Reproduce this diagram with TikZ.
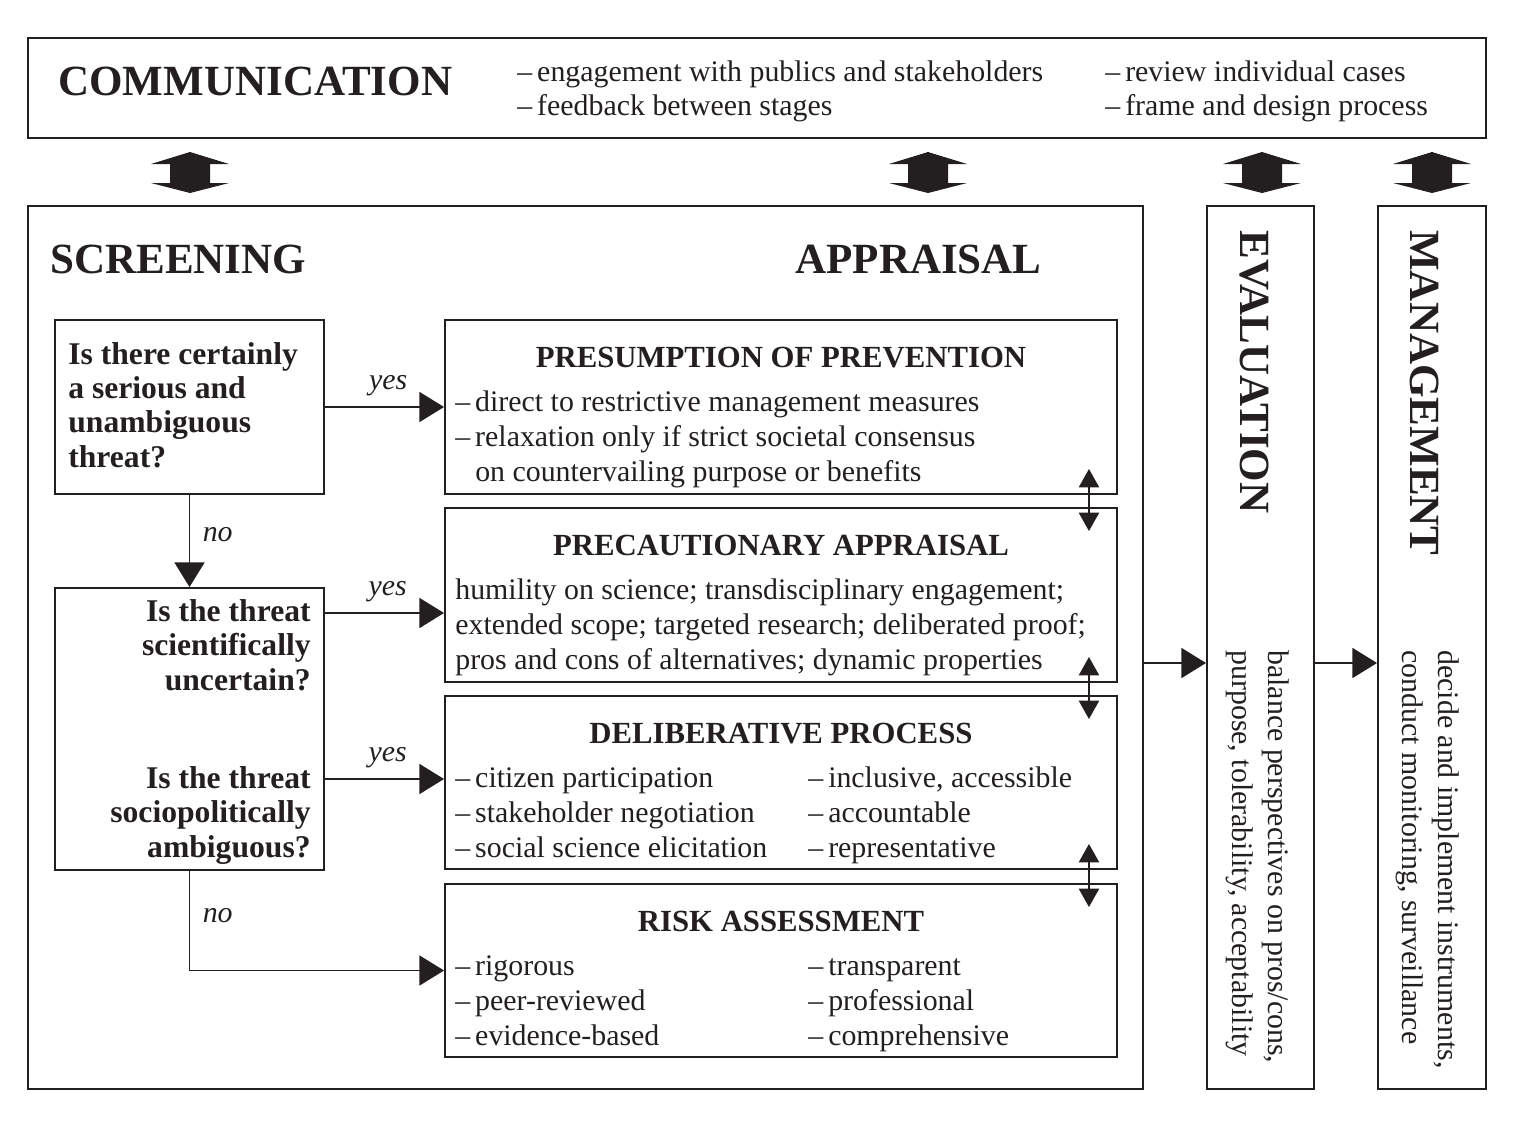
\documentclass[tikz,border=0pt]{standalone}
\usepackage{fontspec}
\setmainfont{Liberation Serif}
\usetikzlibrary{arrows.meta,fit,calc,positioning}
\definecolor{ink}{RGB}{35,31,32}
\tikzset{
  box/.style={draw, line width=1.1pt, inner sep=0pt},
  body/.style={font=\fontsize{17}{19.9}\selectfont, inner sep=0pt, align=left},
  bigtitle/.style={font=\fontsize{24.5}{28}\selectfont\bfseries, inner sep=0pt},
  boxtitle/.style={font=\fontsize{17.5}{20}\selectfont\bfseries, inner sep=0pt},
  question/.style={font=\fontsize{18}{19.4}\selectfont\bfseries, inner sep=0pt},
  answer/.style={font=\fontsize{17}{20}\selectfont\itshape, inner sep=0pt},
  flow/.style={line width=1.1pt, -{Triangle[length=14pt,width=17pt]}},
  link/.style={line width=1.1pt, {Triangle[length=10.5pt,width=11.5pt]}-{Triangle[length=10.5pt,width=11.5pt]}},
}
\begin{document}
\begin{tikzpicture}[x=0.02cm, y=-0.02cm, color=ink]
    \useasboundingbox (0,0) rectangle (1519,1127);

    % Communication
    \node[box, fit={(28,38)(1486,138)}] (comm) {};
    \node[bigtitle, anchor=base west] (commt) at (58,95) {COMMUNICATION};
    \node[body, anchor=base west, font=\fontsize{17}{18.8}\selectfont] (comma) at (517,115) {–\,engagement with publics and stakeholders\\–\,feedback between stages};
    \node[body, anchor=base west, font=\fontsize{17}{18.8}\selectfont] (commb) at (1105,115) {–\,review individual cases\\–\,frame and design process};

    % Exchange arrows
    \foreach \cx in {190,928,1262,1432}
      \fill (\cx,152) -- ++(39,12) -- ++(-19,0) -- ++(0,19) -- ++(19,0) -- (\cx,193)
        -- ++(-39,-10) -- ++(19,0) -- ++(0,-19) -- ++(-19,0) -- cycle;

    % Stages
    \node[box, fit={(28,206)(1143,1089)}] (main) {};
    \node[box, fit={(1207,206)(1314,1089)}] (eval) {};
    \node[box, fit={(1378,206)(1486,1089)}] (mgmt) {};
    \node[bigtitle, anchor=base west] (screent) at (50,273) {SCREENING};
    \node[bigtitle, anchor=base east] (apprt) at (1042,273) {APPRAISAL};
    \node[bigtitle, rotate=-90, anchor=west] (evalt) at (1254,230) {EVALUATION};
    \node[bigtitle, rotate=-90, anchor=west] (mgmtt) at (1425,230) {MANAGEMENT};
    \node[body, rotate=-90, anchor=north west, font=\fontsize{17}{21}\selectfont] (evalb) at (1290,650)
      {balance perspectives on pros/cons,\\purpose, tolerability, acceptability};
    \node[body, rotate=-90, anchor=north west, font=\fontsize{17}{21}\selectfont] (mgmtb) at (1460,650)
      {decide and implement instruments,\\conduct monitoring, surveillance};

    % Screening questions
    \node[box, fit={(55,320)(324,494)}] (s1) {};
    \node[question, anchor=base west, align=left] (q1) at (68,467) {Is there certainly\\a serious and\\unambiguous\\threat?};
    \node[box, fit={(55,588)(324,870)}] (s2) {};
    \node[question, anchor=base east, align=right] (q2) at (311,690) {Is the threat\\scientifically\\uncertain?};
    \node[question, anchor=base east, align=right] (q3) at (311,857) {Is the threat\\sociopolitically\\ambiguous?};

    % Appraisal routes
    \node[box, fit={(445,320)(1117,494)}] (prev) {};
    \node[boxtitle, anchor=base] (prevt) at (781,367) {PRESUMPTION OF PREVENTION};
    \node[body, anchor=base west] (prevb) at (455,481) {–\,direct to restrictive management measures\\–\,relaxation only if strict societal consensus\\\phantom{–\,}on countervailing purpose or benefits};

    \node[box, fit={(445,508)(1117,682)}] (prec) {};
    \node[boxtitle, anchor=base] (prect) at (781,555) {PRECAUTIONARY APPRAISAL};
    \node[body, anchor=base west] (precb) at (455,669) {humility on science; transdisciplinary engagement;\\extended scope; targeted research; deliberated proof;\\pros and cons of alternatives; dynamic properties};

    \node[box, fit={(445,696)(1117,869)}] (delib) {};
    \node[boxtitle, anchor=base] (delibt) at (781,743) {DELIBERATIVE PROCESS};
    \node[body, anchor=base west] (delibl) at (455,857) {–\,citizen participation\\–\,stakeholder negotiation\\–\,social science elicitation};
    \node[body, anchor=base west] (delibr) at (808,857) {–\,inclusive, accessible\\–\,accountable\\–\,representative};

    \node[box, fit={(445,884)(1117,1057)}] (risk) {};
    \node[boxtitle, anchor=base] (riskt) at (781,931) {RISK ASSESSMENT};
    \node[body, anchor=base west] (riskl) at (455,1045) {–\,rigorous\\–\,peer-reviewed\\–\,evidence-based};
    \node[body, anchor=base west] (riskr) at (808,1045) {–\,transparent\\–\,professional\\–\,comprehensive};

    % Decisions
    \coordinate (y2) at (324,613);
    \coordinate (y3) at (324,779);
    \draw[flow] (s1.east) -- (s1.east -| prev.west) node[answer, above=6pt, pos=0.53] {yes};
    \draw[flow] (s1.south) -- (s2.north) node[answer, right=7pt, pos=0.43] {no};
    \draw[flow] (y2) -- (y2 -| prec.west) node[answer, above=6pt, pos=0.53] {yes};
    \draw[flow] (y3) -- (y3 -| delib.west) node[answer, above=6pt, pos=0.53] {yes};
    \draw[flow] (s2.south) |- (risk.west) node[answer, right=7pt, pos=0.225] {no};

    % Feedback between routes
    \foreach \a/\b in {prev/prec, prec/delib, delib/risk}
      \draw[link] ($(\a.south east)+(-29,-26)$) -- ($(\b.north east)+(-29,24)$);

    % Onward
    \coordinate (m1) at (1143,663);
    \draw[flow] (m1) -- (m1 -| eval.west);
    \draw[flow] (m1 -| eval.east) -- (m1 -| mgmt.west);
\end{tikzpicture}
\end{document}
